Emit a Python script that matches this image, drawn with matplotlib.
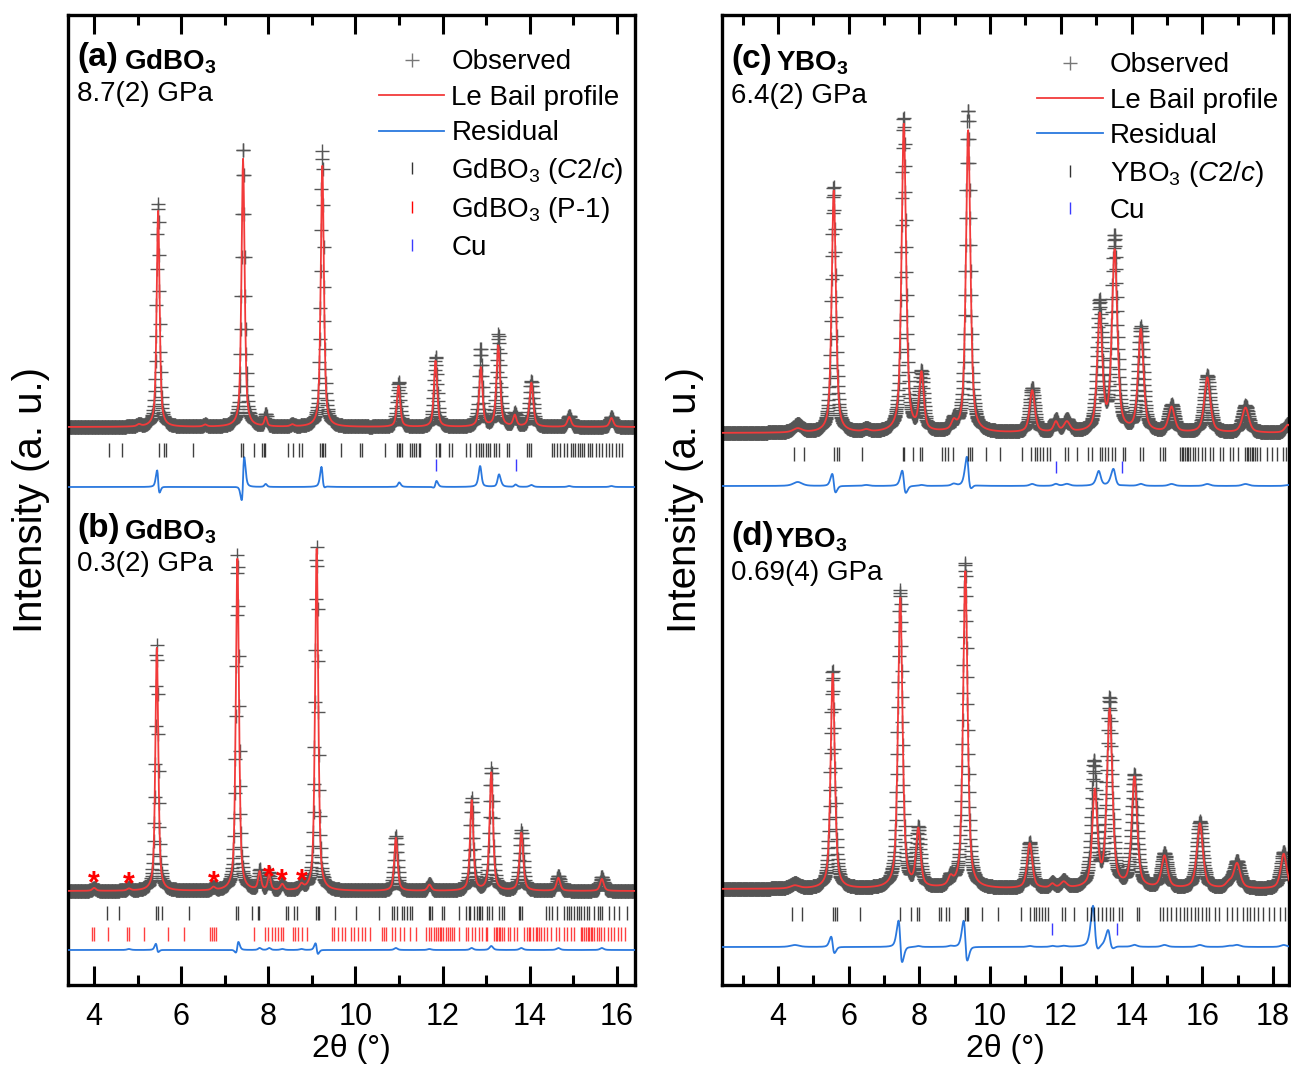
import numpy as np
import matplotlib
matplotlib.use("Agg")
import matplotlib.pyplot as plt
from matplotlib.lines import Line2D
from matplotlib.ticker import MultipleLocator

plt.rcParams['font.family'] = ['Liberation Sans', 'DejaVu Sans']
plt.rcParams['mathtext.fontset'] = 'custom'
plt.rcParams['mathtext.rm'] = 'Liberation Sans'
plt.rcParams['mathtext.it'] = 'Liberation Sans:italic'
plt.rcParams['mathtext.bf'] = 'Liberation Sans:bold'

# ---------------- data ----------------
# peaks: position (deg), calc height, observed height, observed shift, fwhm
a_pos  = [5.47, 7.42, 7.94, 9.24, 10.99, 11.84, 12.88, 13.28, 13.66, 14.04, 14.91, 15.88, 5.03, 6.55, 8.55]
a_calc = [216, 268, 9, 261, 41, 66, 59, 81, 11, 44, 10, 9, 2, 2, 2]
a_obs  = [224, 280, 12, 276, 45, 70, 78, 92, 13, 46, 11, 10, 2, 2, 2]
a_dx   = [-0.003, 0.005, 0.0, -0.002, 0.002, 0.003, -0.005, 0.003, 0.004, 0.0, 0.0, 0.0, 0.0, 0.0, 0.0]
a_fwhm = [0.08, 0.085, 0.07, 0.085, 0.09, 0.09, 0.09, 0.1, 0.09, 0.1, 0.1, 0.1, 0.1, 0.1, 0.1]

b_pos  = [5.44, 7.29, 7.80, 8.02, 8.32, 8.76, 9.11, 10.93, 11.70, 12.67, 13.12, 13.81, 14.66, 15.66, 4.0, 4.8, 6.74]
b_calc = [243, 332, 18, 15, 6, 5, 342, 53, 6, 90, 118, 58, 13, 12, 3, 2, 3]
b_obs  = [246, 336, 20, 17, 7, 6, 344, 55, 7, 92, 122, 60, 15, 14, 3, 3, 3]
b_dx   = [-0.001, 0.001, 0.0, 0.0, 0.0, 0.0, -0.001, 0.0, 0.0, 0.0, 0.0, 0.0, 0.0, 0.0, 0.0, 0.0, 0.0]
b_fwhm = [0.08, 0.085, 0.08, 0.08, 0.1, 0.1, 0.085, 0.09, 0.1, 0.09, 0.095, 0.1, 0.1, 0.1, 0.1, 0.1, 0.1]
b_star_x = [4.0, 4.8, 6.74, 8.0, 8.3, 8.76]
b_star_y = [11, 10, 11, 17, 13, 13]

c_pos  = [5.58, 7.56, 8.06, 8.97, 9.38, 11.19, 11.86, 12.17, 13.10, 13.52, 14.26, 15.13, 16.14, 17.22, 4.56, 6.50, 18.42]
c_calc = [242, 308, 57, 8, 302, 42, 10, 10, 115, 180, 102, 25, 55, 25, 4, 2, 8]
c_obs  = [246, 314, 58, 10, 322, 44, 12, 12, 128, 194, 104, 27, 57, 27, 8, 3, 9]
c_dx   = [-0.004, -0.004, 0.0, 0.0, -0.005, 0.0, 0.0, 0.0, -0.004, -0.004, 0.0, 0.0, 0.0, 0.0, 0.0, 0.0, 0.0]
c_fwhm = [0.14, 0.15, 0.15, 0.15, 0.15, 0.17, 0.15, 0.2, 0.17, 0.18, 0.18, 0.2, 0.2, 0.22, 0.3, 0.2, 0.2]

d_pos  = [5.55, 7.46, 7.97, 8.88, 9.30, 11.12, 11.76, 12.08, 12.96, 13.38, 14.08, 14.93, 15.93, 16.75, 16.98, 18.30, 4.48]
d_calc = [215, 290, 57, 8, 317, 45, 4, 6, 95, 177, 110, 32, 65, 5, 25, 35, 3]
d_obs  = [218, 298, 58, 9, 326, 46, 5, 7, 124, 188, 112, 34, 67, 6, 27, 37, 5]
d_dx   = [-0.004, -0.008, 0.0, 0.0, -0.007, 0.0, 0.0, 0.0, -0.022, -0.006, 0.0, 0.0, 0.0, 0.0, 0.0, 0.0, 0.0]
d_fwhm = [0.14, 0.15, 0.15, 0.15, 0.15, 0.17, 0.15, 0.2, 0.17, 0.18, 0.18, 0.2, 0.2, 0.2, 0.22, 0.2, 0.3]

# reflection markers (deg)
a_c2c = [4.34, 4.65, 5.48, 5.60, 5.64, 6.28, 7.37, 7.42, 7.68, 7.86, 7.89, 7.93, 8.46, 8.57, 8.71, 8.77,
         9.19, 9.23, 9.26, 9.30, 9.67, 10.10, 10.15, 10.69, 10.96, 11.00, 11.03, 11.07, 11.25, 11.29, 11.34,
         11.39, 11.46, 11.49, 11.86, 11.92, 11.95, 12.16, 12.22, 12.53, 12.62, 12.78, 12.83, 12.89, 12.94,
         12.99, 13.04, 13.10, 13.18, 13.23, 13.29, 13.49, 13.52, 13.93, 13.98, 14.04, 14.52, 14.57, 14.64,
         14.70, 14.79, 14.87, 14.94, 15.00, 15.04, 15.10, 15.16, 15.21, 15.26, 15.33, 15.39, 15.44, 15.52,
         15.59, 15.67, 15.75, 15.82, 15.90, 15.98, 16.05, 16.13]
a_cu = [11.84, 13.68]

b_c2c = [4.30, 4.57, 5.43, 5.47, 5.56, 6.18, 7.26, 7.31, 7.62, 7.76, 7.79, 8.40, 8.46, 8.60, 8.65, 9.09,
         9.13, 9.17, 9.53, 10.01, 10.54, 10.84, 10.88, 10.96, 11.07, 11.11, 11.19, 11.26, 11.30, 11.69, 11.72,
         11.76, 11.99, 12.03, 12.37, 12.53, 12.60, 12.64, 12.72, 12.80, 12.83, 12.87, 12.91, 13.03, 13.06,
         13.14, 13.29, 13.37, 13.41, 13.75, 13.79, 13.83, 14.37, 14.44, 14.52, 14.64, 14.79, 14.85, 14.91,
         14.96, 15.02, 15.08, 15.14, 15.19, 15.25, 15.31, 15.37, 15.48, 15.56, 15.62, 15.67, 15.83, 15.94,
         16.05, 16.23]
b_p1 = [3.95, 4.00, 4.31, 4.76, 4.80, 5.15, 5.69, 6.06, 6.66, 6.71, 6.75, 6.80, 7.67, 7.92, 8.00, 8.08,
        8.15, 8.23, 8.28, 8.33, 8.56, 8.61, 8.67, 8.78, 8.89, 9.46, 9.51, 9.61, 9.70, 9.76, 9.89, 9.97,
        10.05, 10.15, 10.21, 10.34, 10.61, 10.65, 10.71, 10.84, 10.92, 11.03, 11.11, 11.25, 11.38, 11.63,
        11.69, 11.74, 11.80, 11.86, 11.89, 11.94, 11.97, 12.02, 12.07, 12.12, 12.17, 12.22, 12.26, 12.38,
        12.53, 12.58, 12.68, 12.74, 12.84, 12.91, 12.99, 13.03, 13.18, 13.22, 13.26, 13.30, 13.33, 13.37,
        13.41, 13.50, 13.56, 13.64, 13.72, 13.87, 13.93, 13.98, 14.02, 14.08, 14.14, 14.18, 14.21, 14.27,
        14.33, 14.41, 14.48, 14.60, 14.67, 14.79, 14.87, 14.94, 15.02, 15.17, 15.21, 15.25, 15.29, 15.33,
        15.36, 15.40, 15.44, 15.48, 15.54, 15.59, 15.65, 15.71, 15.79, 15.86, 15.94, 16.02, 16.09, 16.18]

c_c2c = [4.45, 4.74, 5.59, 5.66, 5.73, 6.39, 7.53, 7.57, 7.83, 8.03, 8.07, 8.63, 8.72, 8.82, 8.94, 9.38,
         9.43, 9.48, 9.87, 10.28, 10.89, 11.17, 11.27, 11.33, 11.41, 11.50, 11.60, 11.69, 12.12, 12.21, 12.45,
         12.78, 12.87, 13.11, 13.15, 13.25, 13.34, 13.44, 13.53, 13.77, 13.81, 14.24, 14.33, 14.80, 14.90,
         14.94, 15.37, 15.42, 15.46, 15.51, 15.56, 15.60, 15.65, 15.73, 15.79, 15.89, 15.98, 16.08, 16.22,
         16.31, 16.50, 16.59, 16.78, 16.88, 17.02, 17.21, 17.25, 17.30, 17.35, 17.40, 17.44, 17.49, 17.54,
         17.63, 17.82, 17.96, 18.10, 18.29, 18.37]
c_cu = [11.86, 13.72]

d_c2c = [4.39, 4.67, 5.55, 5.61, 5.68, 6.32, 7.45, 7.76, 7.94, 7.98, 8.55, 8.60, 8.74, 8.84, 9.29, 9.34,
         9.38, 9.76, 10.21, 10.86, 11.14, 11.23, 11.31, 11.39, 11.48, 11.56, 11.64, 12.04, 12.12, 12.38,
         12.75, 12.85, 12.95, 13.06, 13.16, 13.27, 13.40, 13.48, 13.63, 13.74, 14.16, 14.21, 14.79, 14.89,
         14.99, 15.10, 15.26, 15.36, 15.47, 15.57, 15.68, 15.78, 15.89, 15.99, 16.10, 16.20, 16.36, 16.46,
         16.69, 16.83, 16.99, 17.14, 17.25, 17.35, 17.46, 17.56, 17.72, 17.88, 18.03, 18.19, 18.35]
d_cu = [11.74, 13.58]

x_ticks_left = [4, 6, 8, 10, 12, 14, 16]
x_ticks_right = [4, 6, 8, 10, 12, 14, 16, 18]

# ---------------- styles ----------------
OBS_C = '#555555'
CALC_C = '#f23a3a'
RES_C = '#2a78de'
CU_C = '#3a3aff'
LW = 1.3


def profile(x, pos, hgt, fwhm, dx=None, eta=0.6):
    y = np.zeros_like(x)
    if dx is None:
        dx = [0.0] * len(pos)
    for p, h, w, s in zip(pos, hgt, fwhm, dx):
        g = w / 2.0
        u = (x - p - s) / g
        y += h * (eta / (1 + u ** 2) + (1 - eta) * np.exp(-np.log(2) * u ** 2))
    return y


def draw_pattern(ax, x, pos, calc_h, obs_h, dx, fwhm, base, res_base):
    calc = profile(x, pos, calc_h, fwhm)
    obs = profile(x, pos, obs_h, fwhm, dx)
    ax.plot(x, base + obs, ls='none', marker='+', ms=10, mew=1.0, color=OBS_C, zorder=2)
    ax.plot(x, base + calc, color=CALC_C, lw=LW, zorder=3)
    ax.plot(x, res_base + (obs - calc), color=RES_C, lw=LW, zorder=3)


def draw_ticks(ax, xs, level, color, ms=9.5, alpha=0.75):
    ax.plot(xs, [level] * len(xs), ls='none', marker='|', ms=ms, mew=1.0,
            color=color, alpha=alpha, zorder=3)


fig = plt.figure(figsize=(12.91, 10.70), dpi=100)
axL = fig.add_axes([68 / 1291, 85 / 1070, 567 / 1291, 970 / 1070])
axR = fig.add_axes([722 / 1291, 85 / 1070, 567 / 1291, 970 / 1070])

xL = np.arange(3.40, 16.46, 0.01)
xR = np.arange(2.40, 18.50, 0.01)

# left column
draw_pattern(axL, xL, a_pos, a_calc, a_obs, a_dx, a_fwhm, 558, 498)
draw_ticks(axL, a_c2c, 535.5, 'black')
draw_ticks(axL, a_cu, 520.5, CU_C, ms=8.5, alpha=1)
draw_pattern(axL, xL, b_pos, b_calc, b_obs, b_dx, b_fwhm, 94, 35)
draw_ticks(axL, b_c2c, 72, 'black')
draw_ticks(axL, b_p1, 51, 'red', ms=10)
for sx, sy in zip(b_star_x, b_star_y):
    axL.text(sx, 94 + sy - 4, '*', color='red', fontsize=22, fontweight='bold',
             ha='center', va='center', zorder=5)

# right column
draw_pattern(axR, xR, c_pos, c_calc, c_obs, c_dx, c_fwhm, 552, 499)
draw_ticks(axR, c_c2c, 531.5, 'black')
draw_ticks(axR, c_cu, 518, CU_C, ms=8.5, alpha=1)
draw_pattern(axR, xR, d_pos, d_calc, d_obs, d_dx, d_fwhm, 96, 38)
draw_ticks(axR, d_c2c, 71.5, 'black')
draw_ticks(axR, d_cu, 56.5, CU_C, ms=8.5, alpha=1)

for ax, xl, ticks in ((axL, (3.4, 16.42), x_ticks_left), (axR, (2.42, 18.45), x_ticks_right)):
    ax.set_xlim(*xl)
    ax.set_ylim(0, 970)
    ax.set_xticks(ticks)
    ax.xaxis.set_minor_locator(MultipleLocator(1))
    ax.tick_params(axis='x', which='major', direction='in', top=True, bottom=True,
                   length=14, width=2.2, labelsize=22, pad=12)
    ax.tick_params(axis='x', which='minor', direction='in', top=True, bottom=True,
                   length=7, width=2.2)
    ax.tick_params(axis='y', left=False, right=False, labelleft=False)
    for sp in ax.spines.values():
        sp.set_linewidth(2.4)
    ax.set_xlabel('2θ (°)', fontsize=23, labelpad=2)
    ax.set_ylabel('Intensity (a. u.)', fontsize=29, labelpad=13)

# panel labels
def panel_label(ax, letter, compound, pressure, y_top, x_comp):
    ax.text(0.016, y_top, letter, transform=ax.transAxes, fontsize=24, fontweight='bold',
            ha='left', va='center')
    ax.text(x_comp, y_top - 0.004, compound, transform=ax.transAxes, fontsize=20,
            fontweight='bold', ha='left', va='center')
    ax.text(0.016, y_top - 0.037, pressure, transform=ax.transAxes, fontsize=20,
            ha='left', va='center')

panel_label(axL, '(a)', r'GdBO$_\mathbf{3}$', '8.7(2) GPa', 0.956, 0.098)
panel_label(axL, '(b)', r'GdBO$_\mathbf{3}$', '0.3(2) GPa', 0.471, 0.098)
panel_label(axR, '(c)', r'YBO$_\mathbf{3}$', '6.4(2) GPa', 0.954, 0.096)
panel_label(axR, '(d)', r'YBO$_\mathbf{3}$', '0.69(4) GPa', 0.462, 0.094)

# legends
def handles(n_phase_colors):
    h = [Line2D([], [], ls='none', marker='+', ms=10, mew=1.0, color='#777777'),
         Line2D([], [], color=CALC_C, lw=LW),
         Line2D([], [], color=RES_C, lw=LW)]
    for c in n_phase_colors:
        h.append(Line2D([], [], ls='none', marker='|', ms=9, mew=1.0, color=c))
    return h

legL = axL.legend(handles(['#333333', 'red', CU_C]),
                  ['Observed', 'Le Bail profile', 'Residual', r'GdBO$_3$ ($\mathit{C}$2/$\mathit{c}$)',
                   r'GdBO$_3$ (P-1)', 'Cu'],
                  loc='upper right', bbox_to_anchor=(1.0, 0.976), frameon=False, fontsize=20,
                  handlelength=2.35, handletextpad=0.25, labelspacing=0.34, borderpad=0.2,
                  borderaxespad=0.2)
legR = axR.legend(handles(['#333333', CU_C]),
                  ['Observed', 'Le Bail profile', 'Residual', r'YBO$_3$ ($\mathit{C}$2/$\mathit{c}$)', 'Cu'],
                  loc='upper right', bbox_to_anchor=(1.0, 0.973), frameon=False, fontsize=20,
                  handlelength=2.35, handletextpad=0.25, labelspacing=0.34, borderpad=0.2,
                  borderaxespad=0.2)

fig.savefig('out.png', dpi=100)
